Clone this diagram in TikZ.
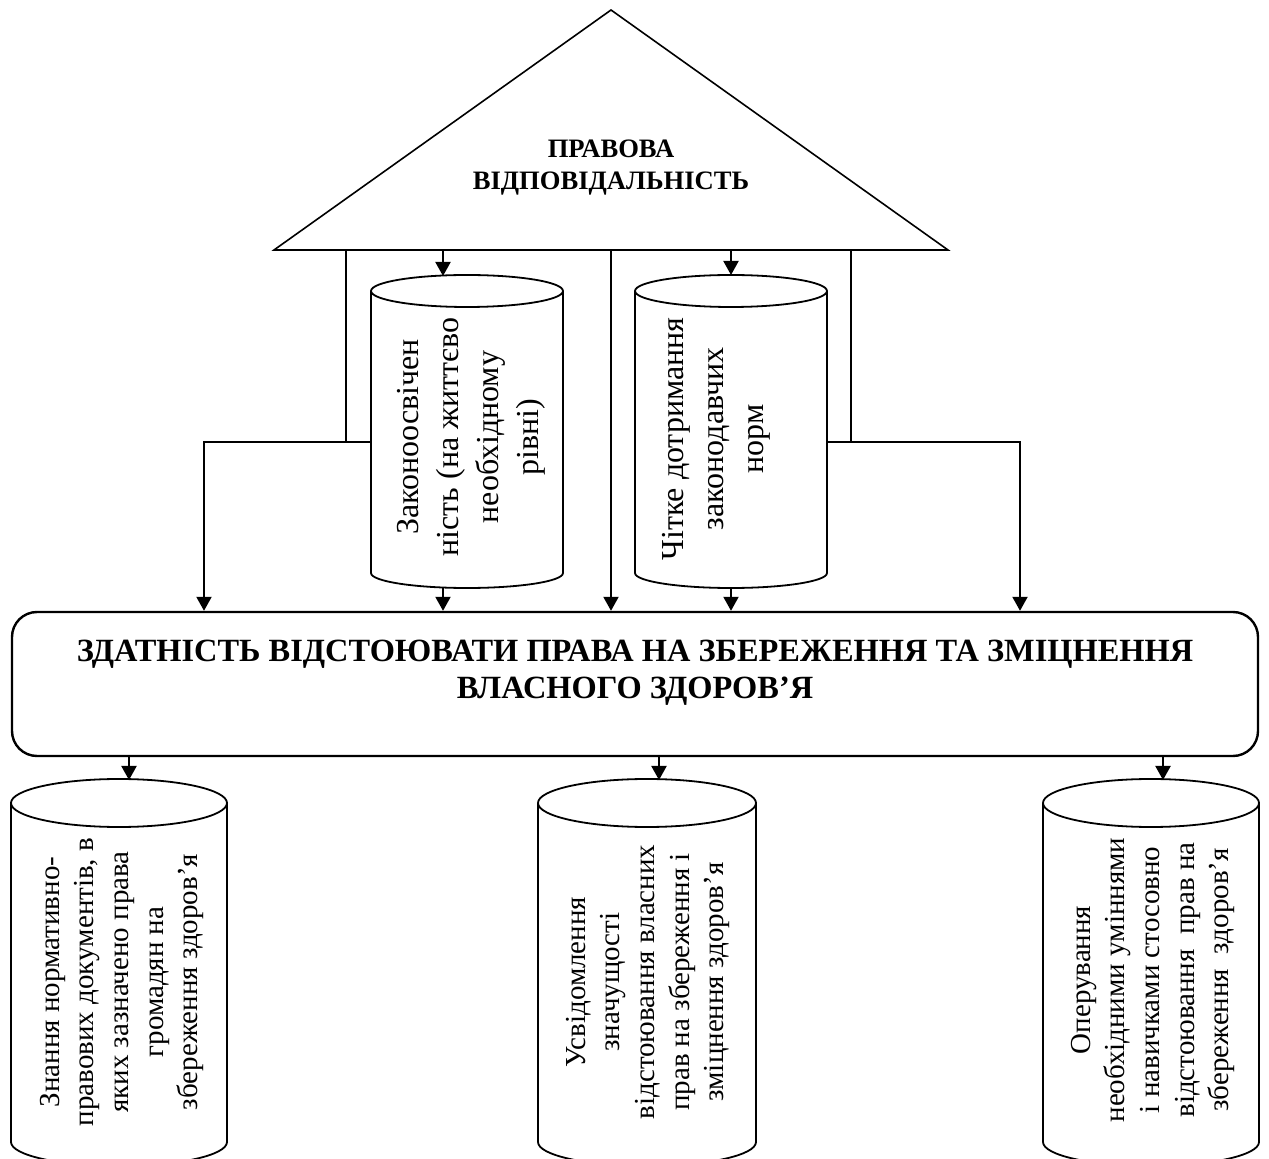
\documentclass[tikz,border=0pt]{standalone}
\usepackage{fontspec}
\setmainfont{Liberation Serif}
\usetikzlibrary{arrows.meta,calc}
\newcommand\drawcyl[4]{%
  \draw[cylline] (#1.north west) -- (#1.south west)
    arc[start angle=180,end angle=360,x radius=#2,y radius=#4] -- (#1.north east);
  \draw[cylline] (#1.north) ellipse[x radius=#2,y radius=#3];
}
\begin{document}
\begin{tikzpicture}[x=0.5pt,y=-0.5pt,
  line/.style={line width=1pt},
  cylline/.style={line width=0.9pt},
  arr/.style={line width=1pt,-{Triangle[length=7pt,width=7.5pt]}},
  cylbody/.style={draw=none,inner sep=0pt,outer sep=0pt},
  uptext/.style={rotate=90,align=center,inner sep=0pt,font=\fontsize{16}{20}\selectfont},
  lowtext/.style={rotate=90,align=center,inner sep=0pt,font=\fontsize{14.5}{17.3}\selectfont},
]
\useasboundingbox (0,0) rectangle (1269,1159);

% roof
\coordinate (apex) at (611,10);
\coordinate (rl) at (274,250);
\coordinate (rr) at (948,250);
\draw[line width=0.8pt] (rl) -- (apex) -- (rr) -- cycle;
\node[align=center,inner sep=0pt,font=\fontsize{13.3}{16}\selectfont\bfseries] (roof) at (611,168) {ПРАВОВА\\ВІДПОВІДАЛЬНІСТЬ};

% points on roof base
\coordinate (b1) at (346,250);
\coordinate (b2) at (443,250);
\coordinate (b3) at (611,250);
\coordinate (b4) at (731,250);
\coordinate (b5) at (851,250);
\coordinate (k1) at (204,442);
\coordinate (k2) at (1020,442);

% upper cylinders
\node[cylbody,minimum width=96pt,minimum height=141pt] (cA) at (467,432) {};
\node[cylbody,minimum width=96pt,minimum height=141pt] (cB) at (731,432) {};
\drawcyl{cA}{48pt}{8pt}{7.5pt}
\drawcyl{cB}{48pt}{8pt}{7.5pt}
\node[uptext] (cAt) at (471,437) {Законоосвічен\\ність (на життєво\\необхідному\\рівні)};
\node[uptext] (cBt) at (716,439) {Чітке дотримання\\законодавчих\\норм};

\coordinate (tA) at (443,276);
\coordinate (tB) at (731,275);
\coordinate (sA) at (443,588);
\coordinate (sB) at (731,588);

% main box
\node[draw,line width=1.2pt,rounded corners=12.5pt,minimum width=623pt,minimum height=72pt,inner sep=0pt] (main) at (635,684) {};
\node[align=center,inner sep=0pt,font=\fontsize{16.2}{18.7}\selectfont\bfseries] (maint) at (635,673)
  {ЗДАТНІСТЬ ВІДСТОЮВАТИ ПРАВА НА ЗБЕРЕЖЕННЯ ТА ЗМІЦНЕННЯ\\ВЛАСНОГО ЗДОРОВ’Я};

% connectors upper
\draw[arr] (b2) -- (tA);
\draw[arr] (b4) -- (tB);
\draw[arr] (sA) -- (sA |- main.north);
\draw[arr] (sB) -- (sB |- main.north);
\draw[arr] (b3) -- (b3 |- main.north);
\draw[line] (b1) -- (b1 |- k1);
\draw[line] (b5) -- (b5 |- k2);
\draw[arr] (cA.west |- k1) -| (k1 |- main.north);
\draw[arr] (cB.east |- k2) -| (k2 |- main.north);

% lower cylinders
\node[cylbody,minimum width=108pt,minimum height=169.5pt] (cL) at (119,972.5) {};
\node[cylbody,minimum width=109pt,minimum height=169.5pt] (cM) at (647,972.5) {};
\node[cylbody,minimum width=108pt,minimum height=169.5pt] (cR) at (1151,972.5) {};
\drawcyl{cL}{54pt}{12pt}{12pt}
\drawcyl{cM}{54.5pt}{12pt}{12pt}
\drawcyl{cR}{54pt}{12pt}{12pt}

\node[lowtext] (cLt) at (122,982) {Знання нормативно-\\правових документів, в\\яких зазначено права\\громадян на\\збереження здоров’я};
\node[lowtext] (cMt) at (648,982) {Усвідомлення\\значущості\\відстоювання власних\\прав на збереження і\\зміцнення здоров’я};
\node[lowtext] (cRt) at (1153,980) {Оперування\\необхідними уміннями\\і навичками стосовно\\відстоювання\ \ прав на\\збереження\ \ здоров’я};

\coordinate (tL) at (129,780);
\coordinate (tM) at (659,780);
\coordinate (tR) at (1163,780);
\draw[arr] (main.south -| tL) -- (tL);
\draw[arr] (main.south -| tM) -- (tM);
\draw[arr] (main.south -| tR) -- (tR);
\end{tikzpicture}
\end{document}
